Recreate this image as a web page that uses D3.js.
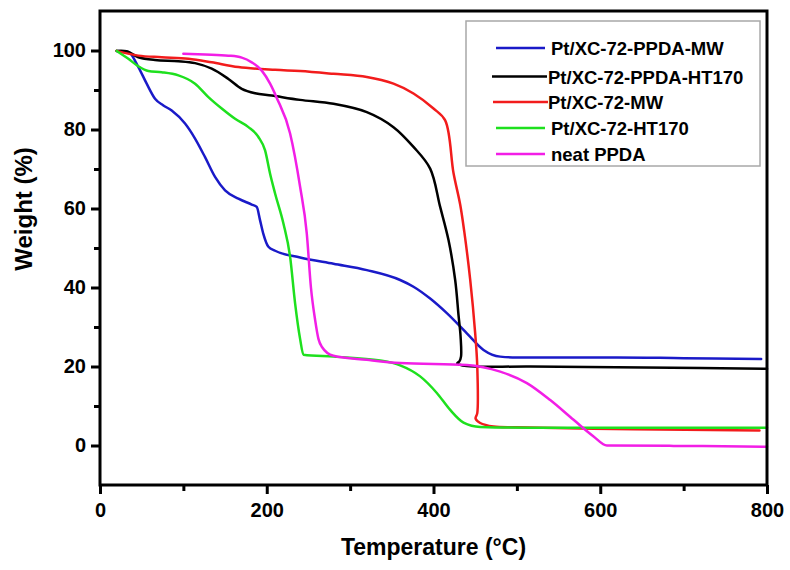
<!DOCTYPE html>
<html>
<head>
<meta charset="utf-8">
<script src="https://cdn.jsdelivr.net/npm/d3@7"></script>
<style>
  html, body { margin: 0; padding: 0; background: #fff; }
  svg { display: block; font-family: "Liberation Sans", Arial, sans-serif; }
</style>
</head>
<body>
<svg id="chart" width="790" height="570"></svg>
<script>
// ---- data (temperature °C, weight %) ----
const ppdaMW = [
  [20,99.9],[34,99.6],[46,95.8],[56,91.6],[66,87.8],[76,86.1],[86,84.8],[102,81.5],[114,77.7],
  [126,73],[138,68],[150,64.6],[166,62.5],[182,61],[188,60.4],[192,57],[196,53.5],[202,50.3],
  [210,49.3],[240,47.6],[280,46],[320,44.4],[360,41.9],[376,40.2],[396,37.2],[416,33.5],
  [440,28.4],[460,24.2],[480,22.5],[500,22.3],[620,22.3],[700,22.1],[793,21.9]
];
const ppdaHT170 = [
  [20,99.9],[32,99.8],[46,98.3],[66,97.6],[94,97.3],[114,96.8],[134,95.4],[154,92.8],[170,90.3],
  [186,89.2],[206,88.6],[240,87.5],[280,86.5],[320,84.4],[352,80.6],[376,75.6],[396,70.1],
  [408,60.4],[418,52],[426,41.9],[430,33],[432.5,27.5],[433,22.5],[431,21.3],[428.5,20.8],
  [440,20.1],[516,20],[720,19.6],[800,19.4]
];
const xcMW = [
  [20,99.9],[46,98.7],[74,98.3],[106,97.9],[134,97],[166,95.8],[210,95.1],[240,94.8],[280,94.1],
  [320,93.3],[352,91.6],[376,89.1],[400,85.3],[414,82.3],[424,69],[432,61],[437,54],[444,42],
  [450,28.4],[452.5,20],[452.5,8.2],[450.5,6.8],[456,5.7],[472,4.8],[500,4.6],[640,4.1],[791,3.8]
];
const xcHT170 = [
  [20,99.9],[34,97.9],[46,96],[58,94.8],[74,94.5],[94,93.7],[114,91.6],[130,88.2],[146,85.3],
  [162,82.7],[178,80.6],[190,78.1],[198,74.7],[204,68.8],[210,63.8],[220,56.2],[228,47.8],
  [234,36],[240,27],[244,23],[280,22.5],[336,21.5],[360,20.3],[384,17.5],[404,13.3],[420,9],
  [436,5.8],[456,4.7],[516,4.5],[800,4.5]
];
const neatPPDA = [
  [100,99.2],[126,99],[154,98.7],[170,98.2],[182,97],[194,94.9],[204,91.6],[212,88],[228,79],
  [240,65.5],[248,53.7],[253,40],[258,31.8],[262,27],[266,25],[280,22.7],[320,21.7],[360,20.9],
  [440,20.4],[480,18.7],[512,15.8],[540,11.5],[568,6.5],[592,2.3],[608,0],[688,-0.1],[800,-0.3]
];
const seriesNames = ["Pt/XC-72-PPDA-MW","Pt/XC-72-PPDA-HT170","Pt/XC-72-MW","Pt/XC-72-HT170","neat PPDA"];
const seriesData = [ppdaMW, ppdaHT170, xcMW, xcHT170, neatPPDA];
const seriesColors = ["#1a1ac8","#000000","#f21c1c","#1ee01e","#f21ee6"];
const xMajorTicks = [0,200,400,600,800];
const xMinorTicks = [100,300,500,700];
const yMajorTicks = [0,20,40,60,80,100];
const yMinorTicks = [10,30,50,70,90];

// ---- layout ----
const plotL = 100, plotR = 767, plotT = 11, plotB = 485;
const svg = d3.select("#chart");
const x = d3.scaleLinear().domain([0,800]).range([plotL,plotR]);
const y = d3.scaleLinear().domain([-10,110]).range([plotB,plotT]);

// lines (monotone in x where the trace never turns back; Catmull-Rom where it does)
const lineMono = d3.line().x(d=>x(d[0])).y(d=>y(d[1])).curve(d3.curveMonotoneX);
const lineCR = d3.line().x(d=>x(d[0])).y(d=>y(d[1])).curve(d3.curveCatmullRom.alpha(0.5));
const g = svg.append("g");
seriesData.forEach((s,i)=>{
  const turnsBack = s.some((p,k)=>k>0 && p[0] <= s[k-1][0]);
  g.append("path").datum(s).attr("d", turnsBack ? lineCR : lineMono)
    .attr("fill","none").attr("stroke",seriesColors[i]).attr("stroke-width",2.5)
    .attr("stroke-linejoin","round").attr("stroke-linecap","round");
});

// axes
svg.append("g").attr("transform",`translate(0,${plotB})`)
  .call(d3.axisBottom(x).tickValues(xMajorTicks).tickSize(9).tickPadding(9).tickFormat(d3.format("d")));
svg.append("g").attr("transform",`translate(0,${plotB})`)
  .call(d3.axisBottom(x).tickValues(xMinorTicks).tickSize(6).tickFormat(""));
svg.append("g").attr("transform",`translate(${plotL},0)`)
  .call(d3.axisLeft(y).tickValues(yMajorTicks).tickSize(9).tickPadding(5).tickFormat(d3.format("d")));
svg.append("g").attr("transform",`translate(${plotL},0)`)
  .call(d3.axisLeft(y).tickValues(yMinorTicks).tickSize(6).tickFormat(""));
svg.selectAll(".domain").remove();
svg.selectAll(".tick line").attr("stroke","#000").attr("stroke-width",3);
svg.selectAll(".tick text").attr("font-size",20).attr("font-weight","bold")
  .attr("font-family","'Liberation Sans', Arial, sans-serif").attr("fill","#000");

// frame
svg.append("rect").attr("x",plotL).attr("y",plotT).attr("width",plotR-plotL).attr("height",plotB-plotT)
  .attr("fill","none").attr("stroke","#000").attr("stroke-width",3);

// axis titles
svg.append("text").attr("x",(plotL+plotR)/2).attr("y",555).attr("text-anchor","middle")
  .attr("font-size",23).attr("font-weight","bold").text("Temperature (°C)");
svg.append("text").attr("transform",`translate(32,209) rotate(-90)`)
  .attr("text-anchor","middle").attr("font-size",24).attr("font-weight","bold").text("Weight (%)");

// legend
const lg = svg.append("g");
lg.append("rect").attr("x",466).attr("y",21).attr("width",294).attr("height",145)
  .attr("fill","#fff").attr("stroke","#a8a8a8").attr("stroke-width",1.5);
const legY = [48, 76.5, 102, 128, 154];
const legX1 = [496, 492, 493, 496, 496];
const legX2 = [545, 547, 548, 545, 545];
const legTx = [551, 548, 548, 551, 551];
seriesNames.forEach((n,i)=>{
  lg.append("line").attr("x1",legX1[i]).attr("x2",legX2[i]).attr("y1",legY[i]).attr("y2",legY[i])
    .attr("stroke",seriesColors[i]).attr("stroke-width",2.5);
  lg.append("text").attr("x",legTx[i]).attr("y",legY[i]+7).attr("font-size",18.5)
    .attr("font-weight","bold").attr("fill","#000").text(n);
});
</script>
</body>
</html>
